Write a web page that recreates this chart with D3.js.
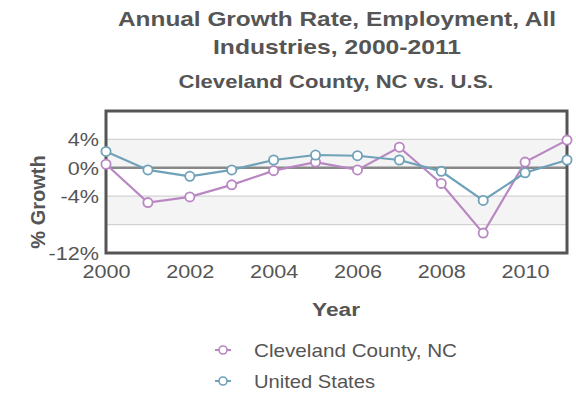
<!DOCTYPE html>
<html><head><meta charset="utf-8">
<script src="https://cdn.jsdelivr.net/npm/d3@7"></script>
<style>body{margin:0;background:#fff;}svg{display:block;font-family:"Liberation Sans",Arial,sans-serif;}</style>
</head><body>
<svg id="c" width="576" height="393"></svg>
<script>
const years = [2000,2001,2002,2003,2004,2005,2006,2007,2008,2009,2010,2011];
const cleveland = [0.5,-4.9,-4.1,-2.4,-0.4,0.8,-0.3,2.9,-2.2,-9.2,0.8,3.9];
const usa = [2.3,-0.3,-1.2,-0.3,1.1,1.8,1.7,1.1,-0.5,-4.6,-0.7,1.1];
const yTicks = [4,0,-4,-12];
const gridLines = [4,0,-4,-8];
const xTicks = [2000,2002,2004,2006,2008,2010];
const seriesNames = ["Cleveland County, NC","United States"];
const colors = ["#b987c2","#6fa1b8"];

const svg = d3.select("#c");
const L=106,R=567,T=111,B=253;
const x = d3.scaleLinear().domain([2000,2011]).range([L,R]);
const y = d3.scaleLinear().domain([-12,8]).range([B,T]);
const tc="#555";
const SX = 1.2;
function fit(sel){ sel.each(function(){ const w=this.getComputedTextLength(); d3.select(this).attr("textLength",w*SX).attr("lengthAdjust","spacingAndGlyphs"); }); }

[[4,0],[-4,-8]].forEach(b=>{
  svg.append("rect").attr("x",L).attr("width",R-L).attr("y",y(b[0])).attr("height",y(b[1])-y(b[0])).attr("fill","#f4f4f4");
});
gridLines.forEach(v=>{
  svg.append("line").attr("x1",L).attr("x2",R).attr("y1",y(v)).attr("y2",y(v))
    .attr("stroke", v===0?"#888":"#d2d2d2").attr("stroke-width", v===0?2.5:1.2);
});
svg.append("rect").attr("x",L).attr("y",T).attr("width",R-L).attr("height",B-T).attr("fill","none").attr("stroke","#555").attr("stroke-width",3);

const yAxis = d3.axisLeft(y).tickValues(yTicks).tickFormat(d=>d+"%").tickSize(0).tickPadding(7);
const gy = svg.append("g").attr("transform",`translate(${L},0)`).call(yAxis);
gy.select(".domain").remove();
gy.selectAll("text").attr("font-size",18).attr("fill","#555").attr("font-family","Liberation Sans, Arial, sans-serif").attr("dy","0.36em").call(fit);
const xAxis = d3.axisBottom(x).tickValues(xTicks).tickFormat(d3.format("d")).tickSize(0).tickPadding(0);
const gx = svg.append("g").attr("transform",`translate(0,${B})`).call(xAxis);
gx.select(".domain").remove();
gx.selectAll("text").attr("font-size",18).attr("fill","#555").attr("font-family","Liberation Sans, Arial, sans-serif").attr("y",25).attr("dy",0).call(fit);

[cleveland,usa].forEach((s,i)=>{
  const data = years.map((yr,j)=>({yr,v:s[j]}));
  svg.append("path").datum(data).attr("fill","none").attr("stroke",colors[i]).attr("stroke-width",2.2)
    .attr("d", d3.line().x(d=>x(d.yr)).y(d=>y(d.v)));
  svg.selectAll(null).data(data).enter().append("circle").attr("cx",d=>x(d.yr)).attr("cy",d=>y(d.v)).attr("r",4.6)
    .attr("fill","#fff").attr("stroke",colors[i]).attr("stroke-width",1.8);
});

svg.append("text").attr("x",337).attr("y",26).attr("text-anchor","middle").attr("font-size",21).attr("font-weight","bold").attr("fill",tc).text("Annual Growth Rate, Employment, All").attr("textLength",438).attr("lengthAdjust","spacingAndGlyphs");
svg.append("text").attr("x",337).attr("y",54).attr("text-anchor","middle").attr("font-size",21).attr("font-weight","bold").attr("fill",tc).text("Industries, 2000-2011").attr("textLength",248).attr("lengthAdjust","spacingAndGlyphs");
svg.append("text").attr("x",336).attr("y",88).attr("text-anchor","middle").attr("font-size",19).attr("font-weight","bold").attr("fill",tc).text("Cleveland County, NC vs. U.S.").attr("textLength",315).attr("lengthAdjust","spacingAndGlyphs");
svg.append("text").attr("transform","translate(45,202) rotate(-90)").attr("text-anchor","middle").attr("font-size",20).attr("font-weight","bold").attr("fill",tc).text("% Growth");
svg.append("text").attr("x",336).attr("y",316).attr("text-anchor","middle").attr("font-size",18).attr("font-weight","bold").attr("fill",tc).text("Year").attr("textLength",48).attr("lengthAdjust","spacingAndGlyphs");

seriesNames.forEach((n,i)=>{
  const cy = 350 + i*31;
  svg.append("line").attr("x1",215).attr("x2",231).attr("y1",cy).attr("y2",cy).attr("stroke",colors[i]).attr("stroke-width",2);
  svg.append("circle").attr("cx",223).attr("cy",cy).attr("r",4).attr("fill","#fff").attr("stroke",colors[i]).attr("stroke-width",1.6);
  svg.append("text").attr("x",254).attr("y",cy+7).attr("font-size",19).attr("fill",tc).text(n)
    .attr("textLength", i===0?203:121).attr("lengthAdjust","spacingAndGlyphs");
});
</script>
</body></html>
